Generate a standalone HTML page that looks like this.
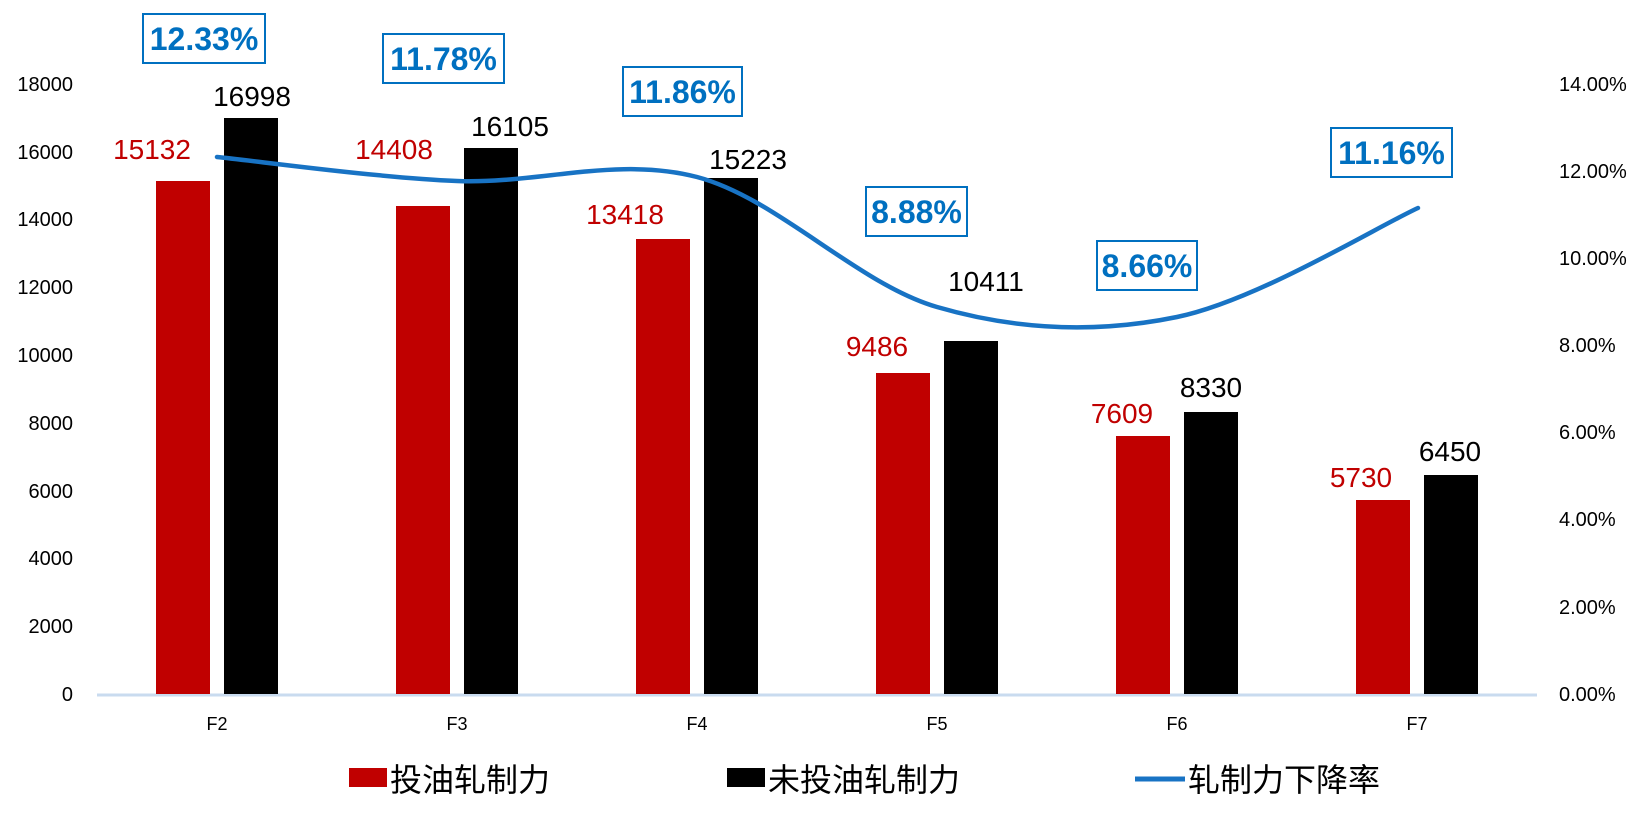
<!DOCTYPE html>
<html><head><meta charset="utf-8"><style>
html,body{margin:0;padding:0;background:#fff;}
svg{display:block;}
text{font-family:"Liberation Sans","Noto Sans CJK SC",sans-serif;}
</style></head><body>
<svg width="1644" height="814" viewBox="0 0 1644 814" xmlns="http://www.w3.org/2000/svg">
<g font-size="20" fill="#000" text-anchor="end">
<text x="73" y="701">0</text>
<text x="73" y="633">2000</text>
<text x="73" y="565">4000</text>
<text x="73" y="498">6000</text>
<text x="73" y="430">8000</text>
<text x="73" y="362">10000</text>
<text x="73" y="294">12000</text>
<text x="73" y="226">14000</text>
<text x="73" y="159">16000</text>
<text x="73" y="91">18000</text>
</g>
<g font-size="20" fill="#000">
<text x="1559" y="701">0.00%</text>
<text x="1559" y="614">2.00%</text>
<text x="1559" y="526">4.00%</text>
<text x="1559" y="439">6.00%</text>
<text x="1559" y="352">8.00%</text>
<text x="1559" y="265">10.00%</text>
<text x="1559" y="178">12.00%</text>
<text x="1559" y="91">14.00%</text>
</g>
<line x1="97" y1="695" x2="1537" y2="695" stroke="#c9dbef" stroke-width="3"/>
<g fill="#c00000">
<rect x="156" y="181" width="54" height="513"/>
<rect x="396" y="206" width="54" height="488"/>
<rect x="636" y="239" width="54" height="455"/>
<rect x="876" y="373" width="54" height="321"/>
<rect x="1116" y="436" width="54" height="258"/>
<rect x="1356" y="500" width="54" height="194"/>
</g>
<g fill="#000">
<rect x="224" y="118" width="54" height="576"/>
<rect x="464" y="148" width="54" height="546"/>
<rect x="704" y="178" width="54" height="516"/>
<rect x="944" y="341" width="54" height="353"/>
<rect x="1184" y="412" width="54" height="282"/>
<rect x="1424" y="475" width="54" height="219"/>
</g>
<g font-size="18" text-anchor="middle" fill="#000">
<text x="217" y="730">F2</text><text x="457" y="730">F3</text><text x="697" y="730">F4</text>
<text x="937" y="730">F5</text><text x="1177" y="730">F6</text><text x="1417" y="730">F7</text>
</g>
<path d="M217,157 C257,161 377,177.7 457,181 C537,184.3 617,156 697,177 C777,198 857,283.7 937,307 C1017,330.3 1096.8,333.5 1177,317 C1257.2,300.5 1377.8,226.2 1418,208" fill="none" stroke="#1873c4" stroke-width="4.5" stroke-linecap="round"/>
<g font-size="28" text-anchor="middle" fill="#c00000">
<text x="152" y="159">15132</text><text x="394" y="159">14408</text><text x="625" y="224">13418</text>
<text x="877" y="356">9486</text><text x="1122" y="423">7609</text><text x="1361" y="487">5730</text>
</g>
<g font-size="28" text-anchor="middle" fill="#000">
<text x="252" y="106">16998</text><text x="510" y="136">16105</text><text x="748" y="169">15223</text>
<text x="986" y="291">10411</text><text x="1211" y="397">8330</text><text x="1450" y="461">6450</text>
</g>
<g fill="#fff" stroke="#0070c0" stroke-width="2">
<rect x="143" y="14" width="122" height="49"/>
<rect x="383" y="34" width="121" height="49"/>
<rect x="623" y="67" width="119" height="49"/>
<rect x="866" y="187" width="101" height="49"/>
<rect x="1097" y="241" width="100" height="49"/>
<rect x="1331" y="128" width="121" height="49"/>
</g>
<g font-size="32" font-weight="bold" text-anchor="middle" fill="#0070c0">
<text x="204" y="50">12.33%</text>
<text x="443.5" y="70">11.78%</text>
<text x="682.5" y="103">11.86%</text>
<text x="916.5" y="223">8.88%</text>
<text x="1147" y="277">8.66%</text>
<text x="1391.5" y="164">11.16%</text>
</g>
<rect x="349" y="768" width="38" height="19" fill="#c00000"/>
<text x="390" y="791" font-size="32">投油轧制力</text>
<rect x="727" y="768" width="38" height="19" fill="#000"/>
<text x="768" y="791" font-size="32">未投油轧制力</text>
<line x1="1135" y1="779" x2="1185" y2="779" stroke="#1873c4" stroke-width="5"/>
<text x="1188" y="791" font-size="32">轧制力下降率</text>
</svg>
</body></html>
